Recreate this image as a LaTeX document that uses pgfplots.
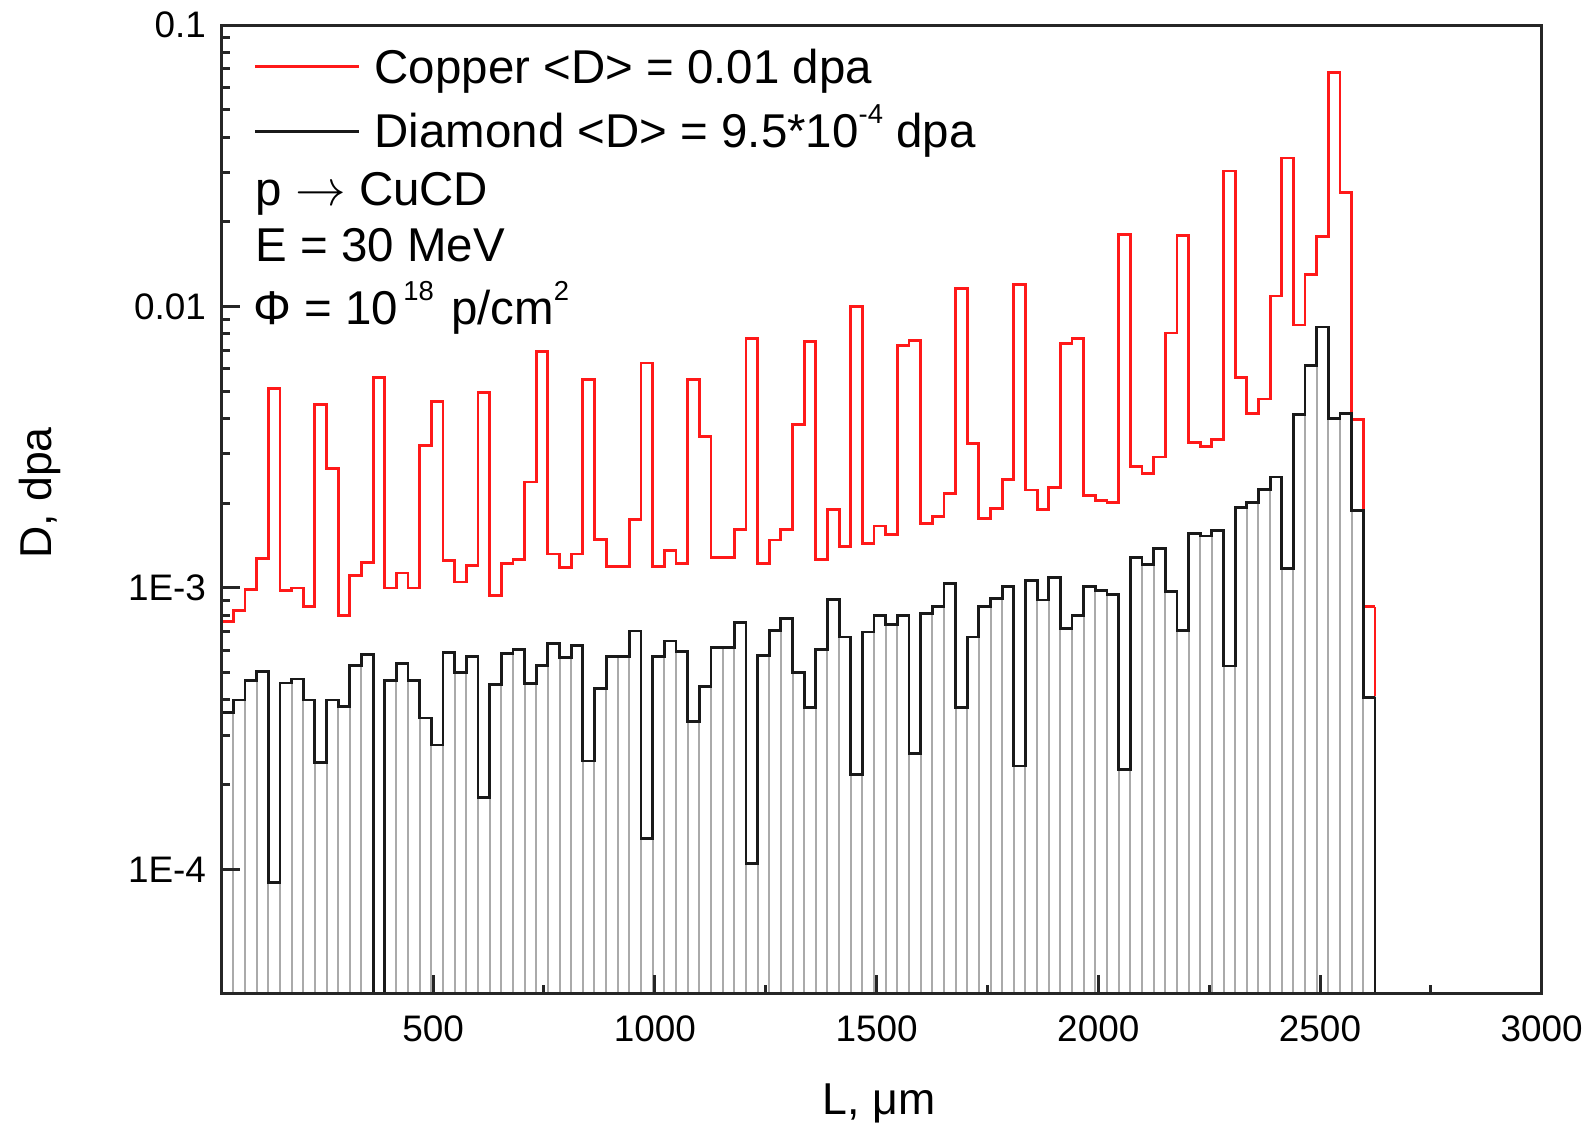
\documentclass[border=0pt]{standalone}
\usepackage{fontspec}
\setmainfont{Liberation Sans}
\usepackage{pgfplots}
\usepackage{pgfplotstable}
\pgfplotsset{compat=1.18}
\definecolor{cured}{RGB}{255,25,25}
\definecolor{edgegray}{RGB}{170,170,170}
\newcommand{\sups}[1]{\raisebox{2.4mm}{\fontsize{7.8}{8}\selectfont #1}}

\pgfplotstableread{
x cu c
23.20 7.6e-4 3.6e-4
49.47 8.3e-4 4.0e-4
75.74 9.9e-4 4.7e-4
102.01 1.27e-3 5.05e-4
128.28 5.1e-3 9.0e-5
154.55 9.8e-4 4.6e-4
180.82 1.0e-3 4.75e-4
207.09 8.6e-4 4.0e-4
233.36 4.5e-3 2.4e-4
259.63 2.65e-3 4.0e-4
285.90 8.0e-4 3.8e-4
312.17 1.11e-3 5.3e-4
338.44 1.23e-3 5.8e-4
364.71 5.6e-3 1e-6
390.98 1.0e-3 4.7e-4
417.25 1.13e-3 5.4e-4
443.52 1.0e-3 4.7e-4
469.79 3.2e-3 3.45e-4
496.06 4.6e-3 2.77e-4
522.33 1.25e-3 5.9e-4
548.60 1.05e-3 5.0e-4
574.87 1.2e-3 5.7e-4
601.14 4.95e-3 1.8e-4
627.41 9.4e-4 4.55e-4
653.68 1.22e-3 5.85e-4
679.95 1.26e-3 6.04e-4
706.22 2.38e-3 4.58e-4
732.49 6.9e-3 5.32e-4
758.76 1.32e-3 6.34e-4
785.03 1.18e-3 5.67e-4
811.30 1.32e-3 6.24e-4
837.57 5.5e-3 2.43e-4
863.84 1.49e-3 4.38e-4
890.11 1.19e-3 5.71e-4
916.38 1.19e-3 5.71e-4
942.65 1.75e-3 7.03e-4
968.92 6.3e-3 1.29e-4
995.19 1.19e-3 5.71e-4
1021.46 1.36e-3 6.48e-4
1047.73 1.22e-3 5.94e-4
1074.00 5.5e-3 3.36e-4
1100.27 3.46e-3 4.48e-4
1126.54 1.28e-3 6.14e-4
1152.81 1.28e-3 6.14e-4
1179.08 1.61e-3 7.53e-4
1205.35 7.7e-3 1.05e-4
1231.62 1.22e-3 5.77e-4
1257.89 1.48e-3 7.08e-4
1284.16 1.61e-3 7.78e-4
1310.43 3.82e-3 5.02e-4
1336.70 7.5e-3 3.76e-4
1362.97 1.26e-3 6.05e-4
1389.24 1.90e-3 9.11e-4
1415.51 1.40e-3 6.70e-4
1441.78 9.97e-3 2.18e-4
1468.05 1.44e-3 6.98e-4
1494.32 1.66e-3 7.96e-4
1520.59 1.55e-3 7.43e-4
1546.86 7.25e-3 8.01e-4
1573.13 7.55e-3 2.58e-4
1599.40 1.70e-3 8.09e-4
1625.67 1.80e-3 8.58e-4
1651.94 2.17e-3 1.04e-3
1678.21 1.16e-2 3.76e-4
1704.48 3.27e-3 6.70e-4
1730.75 1.77e-3 8.58e-4
1757.02 1.91e-3 9.18e-4
1783.29 2.43e-3 1.01e-3
1809.56 1.20e-2 2.33e-4
1835.83 2.23e-3 1.06e-3
1862.10 1.90e-3 9.06e-4
1888.37 2.28e-3 1.09e-3
1914.64 7.4e-3 7.18e-4
1940.91 7.7e-3 7.96e-4
1967.18 2.13e-3 1.01e-3
1993.45 2.05e-3 9.8e-4
2019.72 2.01e-3 9.5e-4
2045.99 1.80e-2 2.27e-4
2072.26 2.70e-3 1.28e-3
2098.53 2.55e-3 1.21e-3
2124.80 2.92e-3 1.38e-3
2151.07 8.05e-3 9.7e-4
2177.34 1.79e-2 7.04e-4
2203.61 3.29e-3 1.56e-3
2229.88 3.19e-3 1.53e-3
2256.15 3.36e-3 1.60e-3
2282.42 3.03e-2 5.28e-4
2308.69 5.6e-3 1.93e-3
2334.96 4.17e-3 2.01e-3
2361.23 4.69e-3 2.24e-3
2387.50 1.09e-2 2.48e-3
2413.77 3.37e-2 1.17e-3
2440.04 8.6e-3 4.13e-3
2466.31 1.30e-2 6.17e-3
2492.58 1.77e-2 8.46e-3
2518.85 6.8e-2 4.0e-3
2545.12 2.54e-2 4.17e-3
2571.39 3.97e-3 1.88e-3
2597.66 8.57e-4 4.09e-4
2623.93 8.57e-4 4.09e-4
}\data

\begin{document}
\begin{tikzpicture}
\begin{axis}[
  at={(22.17mm,13.3mm)}, anchor=south west,
  scale only axis, width=132mm, height=96.8mm,
  xmin=23.2, xmax=3000,
  ymode=log, ymin=3.64e-5, ymax=0.1,
  log origin y=infty,
  xtick={500,1000,1500,2000,2500,3000},
  minor x tick num=1,
  ytick={1e-4,1e-3,1e-2,1e-1},
  yticklabels={1E-4,1E-3,0.01,0.1},
  tick pos=left, tick align=inside,
  major tick length=1.8mm, minor tick length=0.85mm,
  tick style={line width=0.3mm, black!85},
  axis line style={line width=0.3mm, black!85},
  axis on top,
  /pgf/number format/assume math mode=true,
  /pgf/number format/1000 sep={},
  tick label style={font=\fontsize{10.5}{12}\selectfont},
  xticklabel style={inner sep=0pt, yshift=-2.2mm},
  yticklabel style={inner sep=0pt, xshift=-1.5mm},
]
\addplot[cured, line width=0.28mm, const plot mark left] table[x=x,y=cu]{\data};
\addplot[cured, line width=0.28mm] coordinates {(23.2,1e-6) (23.2,7.6e-4)};
\addplot[cured, line width=0.28mm] coordinates {(2623.93,8.57e-4) (2623.93,1e-6)};
\addplot[ybar interval, fill=white, draw=edgegray, line width=0.2mm] table[x=x,y=c]{\data};
\addplot[black!90, line width=0.28mm, const plot mark left] table[x=x,y=c]{\data};
\addplot[black!90, line width=0.28mm] coordinates {(2623.93,4.09e-4) (2623.93,1e-6)};
\end{axis}
\draw[cured, line width=0.3mm] (25.5mm,105.95mm) -- (35.9mm,105.95mm);
\draw[black!90, line width=0.3mm] (25.5mm,99.45mm) -- (35.9mm,99.45mm);
\begin{scope}[every node/.style={inner sep=0pt, anchor=base west, font=\fontsize{13.5}{16}\selectfont}]
\node at (37.4mm,104.2mm) {Copper <D> = 0.01 dpa};
\node at (37.4mm,97.8mm) {Diamond <D> = 9.5*10\sups{-4} dpa};
\node at (25.5mm,92.0mm) {p $\rightarrow$ CuCD};
\node at (25.5mm,86.4mm) {E = 30 MeV};
\node at (25.3mm,80.1mm) {Φ = 10\hspace{0.5mm}\sups{18}\hspace{0.4mm} p/cm\sups{2}};
\end{scope}
\node[rotate=90, font=\fontsize{12.7}{15}\selectfont] at (4.04mm,63.3mm) {D, dpa};
\node[font=\fontsize{12.7}{15}\selectfont] at (87.9mm,2.3mm) {L, μm};
\pgfresetboundingbox
\path[use as bounding box] (0,0) rectangle (158.5mm,112.6mm);
\end{tikzpicture}
\end{document}
